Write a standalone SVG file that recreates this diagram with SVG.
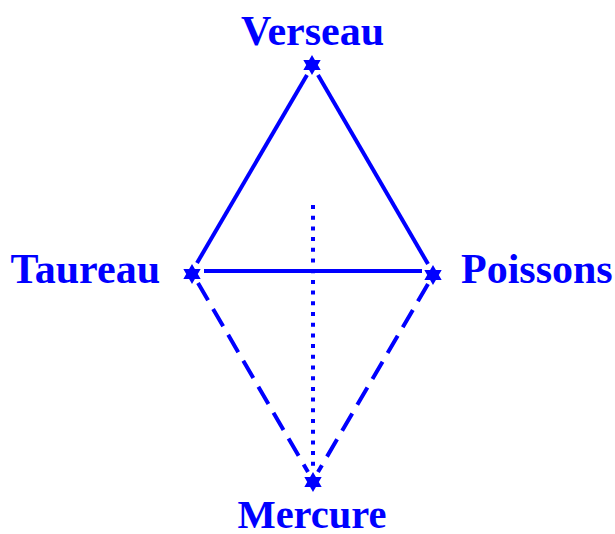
<svg xmlns="http://www.w3.org/2000/svg" width="615" height="534" viewBox="0 0 615 534">
<style>
.lbl{font-family:"Liberation Serif","Times New Roman",serif;font-weight:bold;font-size:42px;fill:#0000ff}
.ln{stroke:#0000ff;stroke-width:4;fill:none}
.dash{stroke-dasharray:20 10}
.dot{stroke-dasharray:4 6.7;stroke-linecap:butt}
.star{fill:#0000ff}
</style>
<defs>
<path id="st" d="M0,-10 L2.9,-5 L8.66,-5 L5.8,0 L8.66,5 L2.9,5 L0,10 L-2.9,5 L-8.66,5 L-5.8,0 L-8.66,-5 L-2.9,-5 Z"/>
</defs>
<g id="connectors">
<line class="ln" x1="307" y1="75" x2="197" y2="263"/>
<line class="ln" x1="318" y1="75" x2="428" y2="264"/>
<line class="ln" x1="204" y1="271" x2="422" y2="271"/>
<line class="ln dash" x1="198" y1="283" x2="308" y2="472"/>
<line class="ln dash" x1="428" y1="284" x2="318" y2="472"/>
<line class="ln dot" x1="313" y1="205" x2="313" y2="470"/>
</g>
<g id="verseau"><use href="#st" class="star" x="312" y="65"/><text class="lbl" x="312.5" y="45" text-anchor="middle">Verseau</text></g>
<g id="taureau"><use href="#st" class="star" x="192" y="274"/><text class="lbl" x="160" y="283" text-anchor="end">Taureau</text></g>
<g id="poissons"><use href="#st" class="star" x="433" y="275"/><text class="lbl" x="461" y="283">Poissons</text></g>
<g id="mercure"><use href="#st" class="star" x="313" y="482"/><text class="lbl" x="312" y="528" text-anchor="middle" style="font-size:40.5px">Mercure</text></g>
</svg>
